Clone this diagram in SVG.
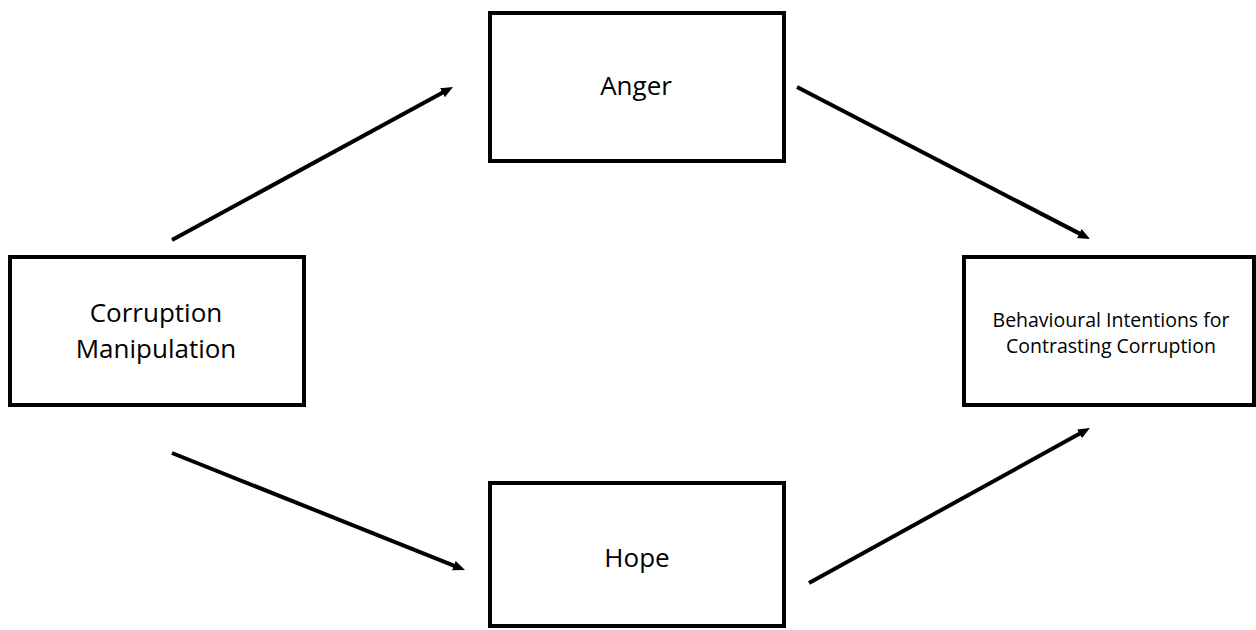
<svg xmlns="http://www.w3.org/2000/svg" width="1256" height="630" viewBox="0 0 1256 630">
<style>
.box{fill:#fff;stroke:#000;stroke-width:4}
.lbl{font-family:"Open Sans","Liberation Sans",sans-serif;fill:#000;text-anchor:middle}
.big{font-size:26px}
.small{font-size:19.5px}
.conn{stroke:#000;stroke-width:4;fill:none;marker-end:url(#ah)}
</style>
<defs>
<marker id="ah" markerUnits="userSpaceOnUse" markerWidth="14" markerHeight="12" refX="2" refY="5" orient="auto">
<path d="M0,0 L12,5 L0,10 z" fill="#000"/>
</marker>
</defs>
<rect width="1256" height="630" fill="#fff"/>
<g id="connectors">
<line class="conn" x1="172" y1="240" x2="444.2" y2="91.8"/>
<line class="conn" x1="797" y1="87" x2="1081.1" y2="234.4"/>
<line class="conn" x1="172" y1="453" x2="455.7" y2="566.3"/>
<line class="conn" x1="809" y1="583" x2="1081.2" y2="432.8"/>
</g>
<g id="node-corruption">
<rect class="box" x="10" y="257" width="294" height="148"/>
<text class="lbl big" x="156" y="322">Corruption</text>
<text class="lbl big" x="156" y="358">Manipulation</text>
</g>
<g id="node-anger">
<rect class="box" x="490" y="13" width="294" height="148"/>
<text class="lbl big" x="636" y="95">Anger</text>
</g>
<g id="node-hope">
<rect class="box" x="490" y="483" width="294" height="143"/>
<text class="lbl big" x="637" y="567">Hope</text>
</g>
<g id="node-behaviour">
<rect class="box" x="964" y="257" width="290" height="148"/>
<text class="lbl small" x="1111" y="327">Behavioural Intentions for</text>
<text class="lbl small" x="1111" y="353">Contrasting Corruption</text>
</g>
</svg>
